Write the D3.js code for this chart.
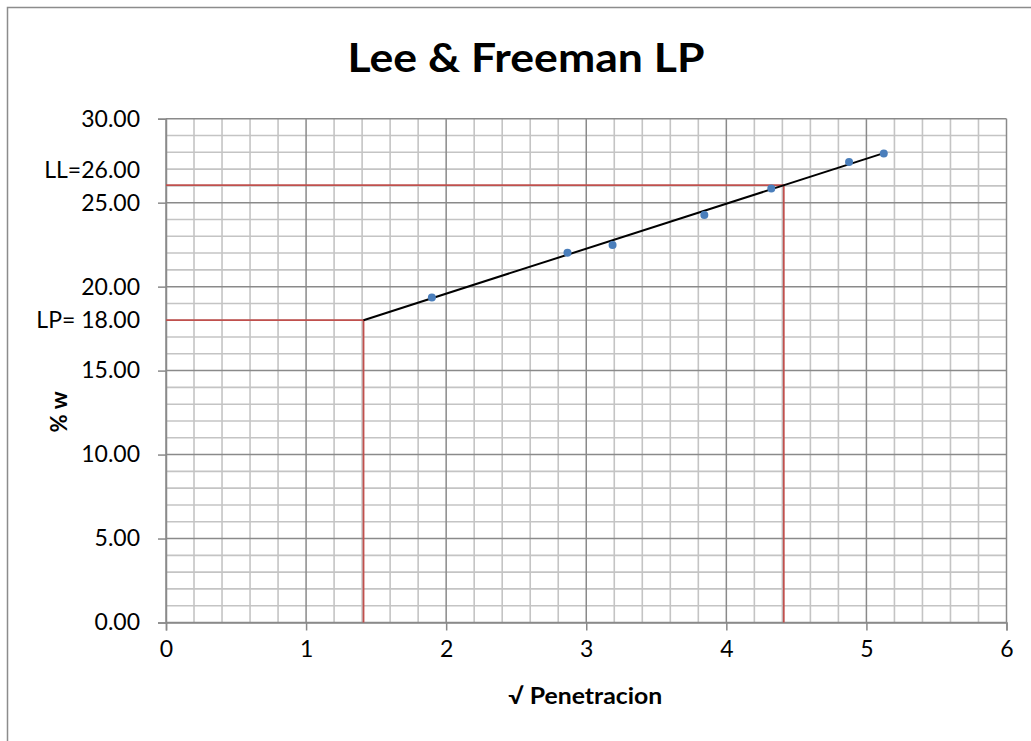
<!DOCTYPE html>
<html>
<head>
<meta charset="utf-8">
<script src="https://cdn.jsdelivr.net/npm/d3@7"></script>
<style>
  html, body { margin: 0; padding: 0; background: #fff; }
  svg { display: block; }
  text { font-family: Lato, "Open Sans", sans-serif; fill: #000; }
</style>
</head>
<body>
<svg id="chart" width="1031" height="741"></svg>
<script>
// ---- data ----
const xTicks = [0, 1, 2, 3, 4, 5, 6];
const yTicks = [0, 5, 10, 15, 20, 25, 30];
const penetracion = [1.898, 2.866, 3.188, 3.843, 4.321, 4.876, 5.124];
const humedad = [19.36, 22.02, 22.48, 24.27, 25.85, 27.42, 27.93];
const fitX = [1.41, 5.124];
const fitY = [18.0, 27.95];
const limitNames = ["LP= 18.00", "LL=26.00"];
const limitX = [1.41, 4.41];
const limitY = [18.0, 26.04];
const titleText = "Lee & Freeman LP";
const xTitle = "√ Penetracion";
const yTitle = "% w";

// ---- layout ----
const svg = d3.select("#chart");
const L = 166, R = 1006.5, T = 118.7, B = 622.5;
const x = d3.scaleLinear().domain([0, 6]).range([L, R]);
const y = d3.scaleLinear().domain([0, 30]).range([B, T]);

// chart border
svg.append("rect").attr("x", 7.5).attr("y", 7.5).attr("width", 1040).attr("height", 745)
  .attr("fill", "#fff").attr("stroke", "#8c8c8c").attr("stroke-width", 1.5);

const g = svg.append("g");

// minor grid
const minorX = d3.range(0, 6.0001, 0.2).filter(v => Math.abs(v - Math.round(v)) > 1e-6);
const minorY = d3.range(0, 30.0001, 1).filter(v => v % 5 !== 0);
g.selectAll(".mx").data(minorX).join("line")
  .attr("x1", d => x(d)).attr("x2", d => x(d)).attr("y1", T).attr("y2", B)
  .attr("stroke", "#c4c4c4").attr("stroke-width", 1.6);
g.selectAll(".my").data(minorY).join("line")
  .attr("y1", d => y(d)).attr("y2", d => y(d)).attr("x1", L).attr("x2", R)
  .attr("stroke", "#c4c4c4").attr("stroke-width", 1.6);
// major grid
g.selectAll(".Mx").data(xTicks).join("line")
  .attr("x1", d => x(d)).attr("x2", d => x(d)).attr("y1", T).attr("y2", B)
  .attr("stroke", "#8a8a8a").attr("stroke-width", 1.5);
g.selectAll(".My").data(yTicks).join("line")
  .attr("y1", d => y(d)).attr("y2", d => y(d)).attr("x1", L).attr("x2", R)
  .attr("stroke", "#8a8a8a").attr("stroke-width", 1.5);

// axes
const xAxis = d3.axisBottom(x).tickValues(xTicks).tickSize(8).tickPadding(10).tickFormat(d3.format("d"));
const gx = svg.append("g").attr("transform", `translate(0,${B})`).call(xAxis);
gx.select(".domain").attr("stroke", "#8a8a8a").attr("stroke-width", 1.5);
gx.selectAll(".tick line").attr("stroke", "#8a8a8a").attr("stroke-width", 1.5);
gx.selectAll(".tick text").attr("font-size", 23).attr("font-family", "Lato, sans-serif").attr("fill", "#000");

const yAxis = d3.axisLeft(y).tickValues(yTicks).tickSize(8).tickPadding(18).tickFormat(d3.format(".2f"));
const gy = svg.append("g").attr("transform", `translate(${L},0)`).call(yAxis);
gy.select(".domain").attr("stroke", "#8a8a8a").attr("stroke-width", 1.5);
gy.selectAll(".tick line").attr("stroke", "#8a8a8a").attr("stroke-width", 1.5);
gy.selectAll(".tick text").attr("font-size", 23).attr("font-family", "Lato, sans-serif").attr("fill", "#000");

// limit labels on y axis
svg.selectAll(".lim").data(limitNames).join("text")
  .attr("x", L - 26)
  .attr("y", (d, i) => y(limitY[i]) + (i === 1 ? -15 : 0))
  .attr("dy", "0.32em")
  .attr("text-anchor", "end").attr("font-size", 23)
  .text(d => d);

// red limit lines
const red = "#c0504d";
limitX.forEach((lx, i) => {
  svg.append("path")
    .attr("d", d3.line()([[x(0), y(limitY[i])], [x(lx), y(limitY[i])], [x(lx), y(0)]]))
    .attr("fill", "none").attr("stroke", red).attr("stroke-width", 1.8);
});

// fit line
svg.append("path")
  .attr("d", d3.line().x(d => x(d[0])).y(d => y(d[1]))(fitX.map((v, i) => [v, fitY[i]])))
  .attr("fill", "none").attr("stroke", "#000").attr("stroke-width", 2);

// points
svg.selectAll(".pt").data(penetracion).join("circle")
  .attr("cx", d => x(d)).attr("cy", (d, i) => y(humedad[i]))
  .attr("r", 4).attr("fill", "#4a7ebb");

// title
svg.append("text").attr("x", 526).attr("y", 72).attr("text-anchor", "middle")
  .attr("font-size", 40).attr("font-weight", "bold")
  .attr("textLength", 357).attr("lengthAdjust", "spacingAndGlyphs").text(titleText);

// axis titles
svg.append("text").attr("x", (L + R) / 2 - 1).attr("y", 704).attr("text-anchor", "middle")
  .attr("font-size", 22).attr("font-weight", "bold")
  .attr("textLength", 154).attr("lengthAdjust", "spacingAndGlyphs").text(xTitle);
svg.append("text").attr("transform", "translate(67,412) rotate(-90)").attr("text-anchor", "middle")
  .attr("font-size", 23).attr("font-weight", "bold")
  .attr("textLength", 41).attr("lengthAdjust", "spacingAndGlyphs").text(yTitle);
</script>
</body>
</html>
